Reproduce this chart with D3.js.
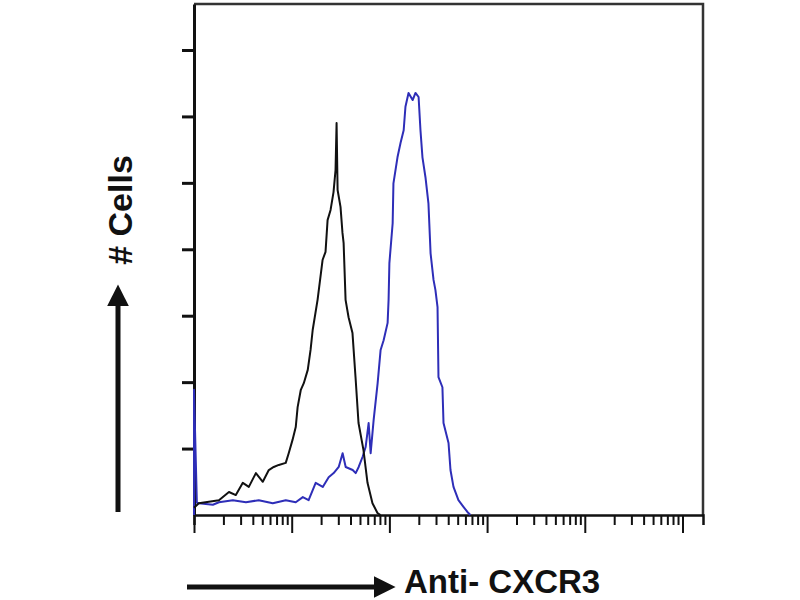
<!DOCTYPE html>
<html>
<head>
<meta charset="UTF-8">
<title>Anti- CXCR3 flow histogram</title>
<style>
  body { margin: 0; background: #fff; }
  svg { display: block; }
  .lbl { font-family: "Liberation Sans", "DejaVu Sans", sans-serif; font-weight: 700; fill: #111; }
</style>
</head>
<body>
<svg id="chart"></svg>
<script src="https://d3js.org/d3.v7.min.js"></script>
<script>
// isotype control (black) - fluorescence intensity and cell count
const controlX = [1, 1.12, 1.8, 2.28, 2.68, 3.16, 3.64, 4.3, 5.06, 5.83, 6.55, 7.38, 8.69, 9.32, 10.2, 11.0, 11.5, 12.4, 13.3, 14.6, 15.6, 16.4, 18.4, 20.7, 22.2, 23.3, 25.0, 26.8, 28.1, 28.8, 29.5, 31.6, 33.1, 34.0, 35.6, 38.2, 41.9, 45.0, 48.3, 54.3, 59.7, 67.1, 75.5, 81];
const controlY = [14, 23, 29, 45, 39, 63, 55, 82, 65, 88, 94, 98, 102, 121, 147, 172, 211, 245, 258, 284, 323, 362, 421, 499, 515, 577, 597, 632, 675, 767, 636, 603, 552, 532, 421, 387, 356, 270, 180, 127, 63, 23, 4, 0];

// Anti-CXCR3 stained (blue)
const stainX = [1, 1, 1.07, 1.12, 1.56, 1.8, 2.5, 3.4, 4.6, 6.4, 8.7, 11.0, 13.0, 14.9, 17.6, 20.8, 23.9, 26.9, 30.3, 33.2, 35.7, 42.1, 45.2, 48.5, 53.2, 57.1, 61.3, 64.3, 69.0, 75.8, 81.3, 87.3, 95.9, 98.1, 100, 108, 110, 121, 130, 140, 146, 157, 173, 185, 199, 208, 218, 234, 251, 264, 283, 296, 311, 318, 349, 358, 403, 422, 453, 509, 573, 629, 675];
const stainY = [0, 245, 24, 23, 20, 25, 29, 25, 29, 23, 29, 25, 35, 29, 63, 55, 74, 82, 94, 121, 94, 88, 82, 94, 114, 133, 180, 121, 186, 258, 323, 342, 376, 421, 493, 571, 649, 700, 728, 753, 799, 826, 812, 826, 818, 753, 700, 661, 610, 512, 460, 440, 407, 270, 250, 180, 141, 88, 55, 29, 16, 6, 0];

const yTicks = [130, 260, 390, 520, 650, 780, 910];
const xLabel = "Anti- CXCR3";
const yLabel = "# Cells";

const width = 800, height = 600;
const svg = d3.select("#chart").attr("width", width).attr("height", height);

const x = d3.scaleLog().domain([1, Math.pow(10, 5.21)]).range([194, 703]);
const y = d3.scaleLinear().domain([0, 1000]).range([515, 4]);

// log tick values 1..9 x 10^k
let xTicks = [];
for (let k = 0; k <= 5; k++) {
  for (let m = 1; m <= 9; m++) {
    let v = m * Math.pow(10, k);
    if (v <= x.domain()[1]) xTicks.push(v);
  }
}

// frame top / right
svg.append("path")
  .attr("d", `M${x.range()[0]},${y(1000)}H${x.range()[1]}V${y(0)}`)
  .attr("fill", "none")
  .attr("stroke", "#333")
  .attr("stroke-width", 2.5);

// x axis
const xAxis = svg.append("g")
  .attr("transform", `translate(0,${y(0)})`)
  .call(d3.axisBottom(x).tickValues(xTicks).tickSize(10).tickFormat(""));
xAxis.select(".domain").attr("stroke", "#111").attr("stroke-width", 2.5);
xAxis.selectAll(".tick line")
  .attr("stroke", "#111")
  .attr("stroke-width", 2)
  .attr("y2", d => Math.abs(Math.log10(d) - Math.round(Math.log10(d))) < 1e-6 ? 18 : 10);

// y axis
const yAxis = svg.append("g")
  .attr("transform", `translate(${x.range()[0]},0)`)
  .call(d3.axisLeft(y).tickValues(yTicks).tickSize(12).tickFormat("").tickSizeOuter(0));
yAxis.select(".domain").attr("stroke", "#111").attr("stroke-width", 3);
yAxis.selectAll(".tick line").attr("stroke", "#111").attr("stroke-width", 3);

const line = d3.line()
  .x(d => x(d[0]))
  .y(d => y(d[1]));

svg.append("path")
  .datum(stainX.map((v, i) => [v, stainY[i]]))
  .attr("d", line)
  .attr("fill", "none")
  .attr("stroke", "#2e2eb8")
  .attr("stroke-width", 2)
  .attr("stroke-linejoin", "round");

svg.append("path")
  .datum(controlX.map((v, i) => [v, controlY[i]]))
  .attr("d", line)
  .attr("fill", "none")
  .attr("stroke", "#111")
  .attr("stroke-width", 2)
  .attr("stroke-linejoin", "round");

// arrows
const defs = svg.append("defs");
defs.append("marker")
  .attr("id", "head")
  .attr("viewBox", "0 0 10 10")
  .attr("refX", 2).attr("refY", 5)
  .attr("markerWidth", 4.4).attr("markerHeight", 4.4)
  .attr("orient", "auto")
  .append("path")
  .attr("d", "M0,0L10,5L0,10Z")
  .attr("fill", "#111");

svg.append("line")
  .attr("x1", 118).attr("y1", 512)
  .attr("x2", 118).attr("y2", 302)
  .attr("stroke", "#111").attr("stroke-width", 5)
  .attr("marker-end", "url(#head)");

svg.append("line")
  .attr("x1", 187).attr("y1", 587)
  .attr("x2", 378).attr("y2", 587)
  .attr("stroke", "#111").attr("stroke-width", 5)
  .attr("marker-end", "url(#head)");

svg.append("text")
  .attr("class", "lbl")
  .attr("transform", "translate(132,210) rotate(-90)")
  .attr("text-anchor", "middle")
  .attr("font-size", 34)
  .text(yLabel);

svg.append("text")
  .attr("class", "lbl")
  .attr("x", 404).attr("y", 593)
  .attr("font-size", 33)
  .text(xLabel);
</script>
</body>
</html>
